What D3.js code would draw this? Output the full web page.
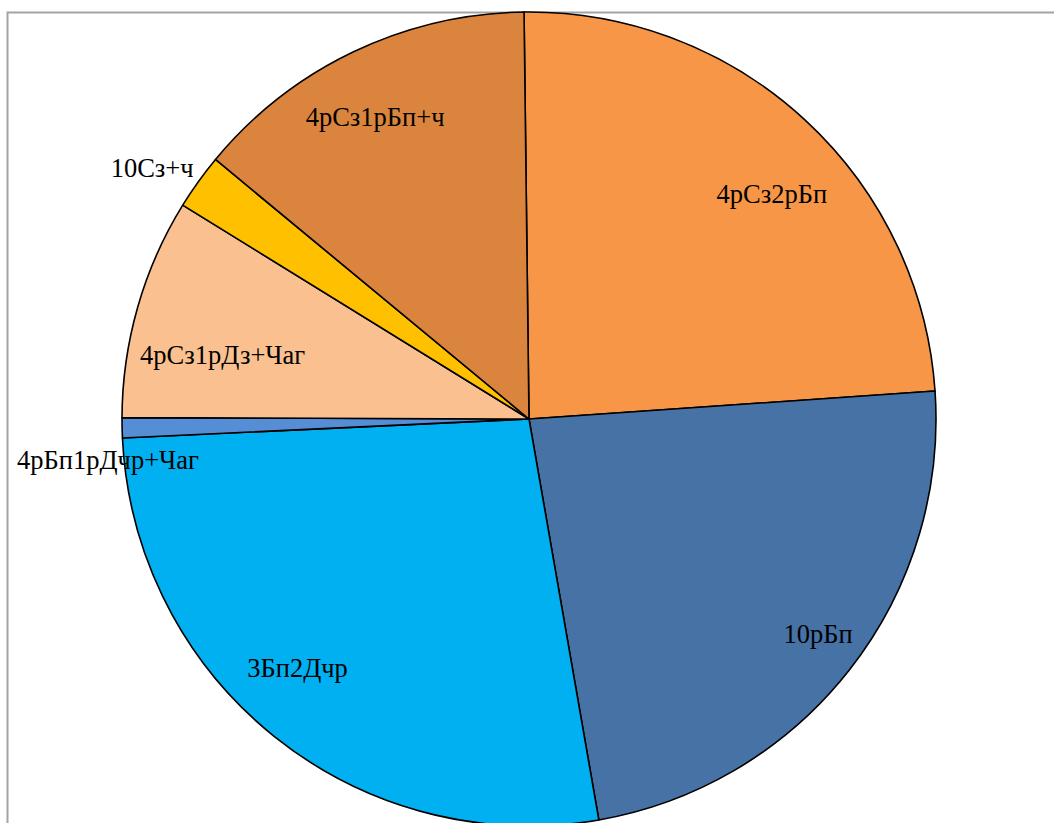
<!DOCTYPE html>
<html>
<head>
<meta charset="utf-8">
<title>Pie</title>
<script src="https://d3js.org/d3.v7.min.js"></script>
<style>
  body { margin: 0; background: #fff; }
  .lbl { font-family: "Liberation Serif", "Times New Roman", serif; font-size: 26.5px; fill: #000; }
</style>
</head>
<body>
<script>
// data, clockwise from the top
const categories = ["4рСз2рБп", "10рБп", "3Бп2Дчр", "4рБп1рДчр+Чаг", "4рСз1рДз+Чаг", "10Сз+ч", "4рСз1рБп+ч"];
const values = [24.1, 23.35, 27.0, 0.8, 8.75, 2.2, 13.8];
const colors = ["#F79646", "#4672A6", "#00B0F0", "#558ED5", "#FAC090", "#FFC000", "#DB843D"];
// label placement: [radius, angle in degrees clockwise from top]
const labelPos = [[331, 47.2], [360, 126.6], [340, 222.9], [423, 264.4], [313, 281.8], [453, 303.7], [339, 333.0]];

const width = 1054, height = 823;
const cx = 529, cy = 419, radius = 407;
const startDeg = -0.7;

const svg = d3.select("body").append("svg")
  .attr("width", width)
  .attr("height", height);

// chart frame (only top/left visible)
svg.append("rect")
  .attr("x", 7.5).attr("y", 12.5)
  .attr("width", 1200).attr("height", 1000)
  .attr("fill", "none")
  .attr("stroke", "#a3a3a3")
  .attr("stroke-width", 2);

const pie = d3.pie()
  .sort(null)
  .startAngle(startDeg * Math.PI / 180)
  .endAngle((startDeg + 360) * Math.PI / 180)
  .value(d => d);

const arc = d3.arc().innerRadius(0).outerRadius(radius);

const g = svg.append("g").attr("transform", `translate(${cx},${cy})`);

g.selectAll("path.slice")
  .data(pie(values))
  .enter().append("path")
  .attr("class", "slice")
  .attr("d", arc)
  .attr("fill", (d, i) => colors[i])
  .attr("stroke", "#000")
  .attr("stroke-width", 1.6)
  .attr("stroke-linejoin", "round");

g.selectAll("text.lbl")
  .data(categories)
  .enter().append("text")
  .attr("class", "lbl")
  .attr("text-anchor", "middle")
  .attr("dominant-baseline", "central")
  .attr("x", (d, i) => labelPos[i][0] * Math.sin(labelPos[i][1] * Math.PI / 180))
  .attr("y", (d, i) => -labelPos[i][0] * Math.cos(labelPos[i][1] * Math.PI / 180))
  .text(d => d);
</script>
</body>
</html>
